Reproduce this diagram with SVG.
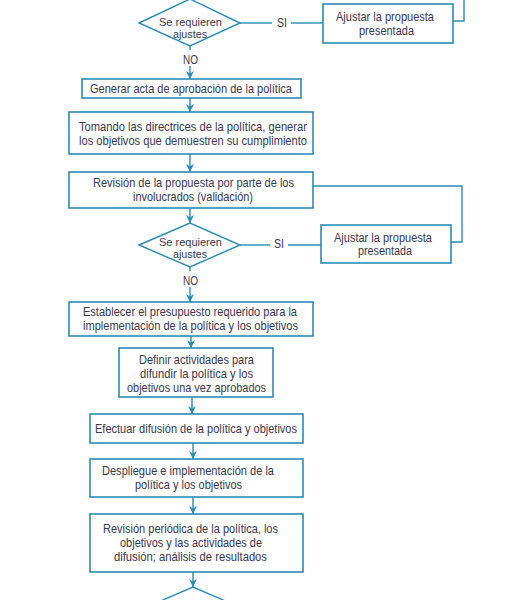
<svg xmlns="http://www.w3.org/2000/svg" width="524" height="600" viewBox="0 0 524 600">
<defs>
<style>
.box{fill:#fff;stroke:#2a8cb6;stroke-width:1.6}
.dia{fill:#fff;stroke:#2a8cb6;stroke-width:1.4}
.ln{fill:none;stroke:#2a8cb6;stroke-width:1.4}
text{font-family:"Liberation Sans Narrow","Liberation Sans",Arial,sans-serif;font-size:13px;fill:#383850}
.sm{font-size:11.5px}
.md{font-size:12.5px}
</style>
<marker id="ah" viewBox="0 0 10 10" refX="10" refY="5" markerWidth="8" markerHeight="8" markerUnits="userSpaceOnUse" orient="auto">
<path d="M0,0 L10,5 L0,10 L3,5 Z" fill="#2a8cb6"/>
</marker>
</defs>
<rect width="524" height="600" fill="#fff"/>
<g id="connectors">
<line class="ln" x1="240" y1="23" x2="272" y2="23"/>
<line class="ln" x1="291" y1="23" x2="323" y2="23"/>
<polyline class="ln" points="453,21 464,21 464,-2"/>
<line class="ln" x1="190" y1="46" x2="190" y2="50"/>
<line class="ln" x1="190" y1="66" x2="190" y2="79" marker-end="url(#ah)"/>
<line class="ln" x1="190" y1="98" x2="190" y2="112" marker-end="url(#ah)"/>
<line class="ln" x1="190" y1="154" x2="190" y2="172" marker-end="url(#ah)"/>
<line class="ln" x1="190" y1="208" x2="190" y2="223" marker-end="url(#ah)"/>
<polyline class="ln" points="451,242 462,242 462,186 313,186"/>
<line class="ln" x1="240" y1="245" x2="270" y2="245"/>
<line class="ln" x1="288" y1="245" x2="321" y2="245"/>
<line class="ln" x1="190" y1="267" x2="190" y2="271"/>
<line class="ln" x1="190" y1="287" x2="190" y2="302" marker-end="url(#ah)"/>
<line class="ln" x1="191" y1="336" x2="191" y2="348" marker-end="url(#ah)"/>
<line class="ln" x1="192" y1="397" x2="192" y2="414" marker-end="url(#ah)"/>
<line class="ln" x1="193" y1="443" x2="193" y2="459" marker-end="url(#ah)"/>
<line class="ln" x1="193" y1="497" x2="193" y2="514" marker-end="url(#ah)"/>
<line class="ln" x1="193" y1="572" x2="193" y2="587" marker-end="url(#ah)"/>
</g>
<g id="d1">
<polygon class="dia" points="139,23 190,-1 240,23 190,46"/>
<text class="sm" x="159" y="26" textLength="63" lengthAdjust="spacingAndGlyphs">Se requieren</text>
<text class="sm" x="173" y="37.5" textLength="34" lengthAdjust="spacingAndGlyphs">ajustes</text>
</g>
<g id="si1"><text x="277" y="27" textLength="10" lengthAdjust="spacingAndGlyphs">SI</text></g>
<g id="aj1">
<rect class="box" x="323" y="4" width="130" height="39"/>
<text class="md" x="336" y="21" textLength="98" lengthAdjust="spacingAndGlyphs">Ajustar la propuesta</text>
<text class="md" x="359" y="35" textLength="55" lengthAdjust="spacingAndGlyphs">presentada</text>
</g>
<g id="no1"><text x="183" y="64" textLength="15" lengthAdjust="spacingAndGlyphs">NO</text></g>
<g id="n1">
<rect class="box" x="82" y="79" width="219" height="19"/>
<text x="90" y="93" textLength="202" lengthAdjust="spacingAndGlyphs">Generar acta de aprobación de la política</text>
</g>
<g id="n2">
<rect class="box" x="69" y="112" width="244" height="42"/>
<text x="79" y="131" textLength="228" lengthAdjust="spacingAndGlyphs">Tomando las directrices de la política, generar</text>
<text x="79" y="145" textLength="228" lengthAdjust="spacingAndGlyphs">los objetivos que demuestren su cumplimiento</text>
</g>
<g id="n3">
<rect class="box" x="69" y="172" width="244" height="36"/>
<text x="93" y="187" textLength="201" lengthAdjust="spacingAndGlyphs">Revisión de la propuesta por parte de los</text>
<text x="133" y="201" textLength="120" lengthAdjust="spacingAndGlyphs">involucrados (validación)</text>
</g>
<g id="d2">
<polygon class="dia" points="139,245 190,223 240,245 190,267"/>
<text class="sm" x="159" y="246" textLength="63" lengthAdjust="spacingAndGlyphs">Se requieren</text>
<text class="sm" x="173" y="257.5" textLength="34" lengthAdjust="spacingAndGlyphs">ajustes</text>
</g>
<g id="si2"><text x="274" y="248" textLength="10" lengthAdjust="spacingAndGlyphs">SI</text></g>
<g id="aj2">
<rect class="box" x="321" y="225" width="130" height="38"/>
<text class="md" x="334" y="242" textLength="98" lengthAdjust="spacingAndGlyphs">Ajustar la propuesta</text>
<text class="md" x="358" y="255" textLength="54" lengthAdjust="spacingAndGlyphs">presentada</text>
</g>
<g id="no2"><text x="183" y="285" textLength="15" lengthAdjust="spacingAndGlyphs">NO</text></g>
<g id="n4">
<rect class="box" x="69" y="302" width="244" height="34"/>
<text x="83" y="316" textLength="214" lengthAdjust="spacingAndGlyphs">Establecer el presupuesto requerido para la</text>
<text x="83" y="330" textLength="215" lengthAdjust="spacingAndGlyphs">implementación de la política y los objetivos</text>
</g>
<g id="n5">
<rect class="box" x="119" y="348" width="154" height="49"/>
<text x="139" y="364" textLength="115" lengthAdjust="spacingAndGlyphs">Definir actividades para</text>
<text x="140" y="378" textLength="113" lengthAdjust="spacingAndGlyphs">difundir la política y los</text>
<text x="127" y="392" textLength="139" lengthAdjust="spacingAndGlyphs">objetivos una vez aprobados</text>
</g>
<g id="n6">
<rect class="box" x="90" y="414" width="213" height="29"/>
<text x="95" y="433" textLength="202" lengthAdjust="spacingAndGlyphs">Efectuar difusión de la política y objetivos</text>
</g>
<g id="n7">
<rect class="box" x="90" y="459" width="213" height="38"/>
<text x="102" y="475" textLength="172" lengthAdjust="spacingAndGlyphs">Despliegue e implementación de la</text>
<text x="135" y="489" textLength="107" lengthAdjust="spacingAndGlyphs">política y los objetivos</text>
</g>
<g id="n8">
<rect class="box" x="90" y="514" width="213" height="58"/>
<text x="103" y="533" textLength="175" lengthAdjust="spacingAndGlyphs">Revisión periódica de la política, los</text>
<text x="120" y="547" textLength="142" lengthAdjust="spacingAndGlyphs">objetivos y las actividades de</text>
<text x="114" y="561" textLength="153" lengthAdjust="spacingAndGlyphs">difusión; análisis de resultados</text>
</g>
<g id="d3">
<polygon class="dia" points="142,609 193,587 244,609 193,631"/>
</g>
</svg>
